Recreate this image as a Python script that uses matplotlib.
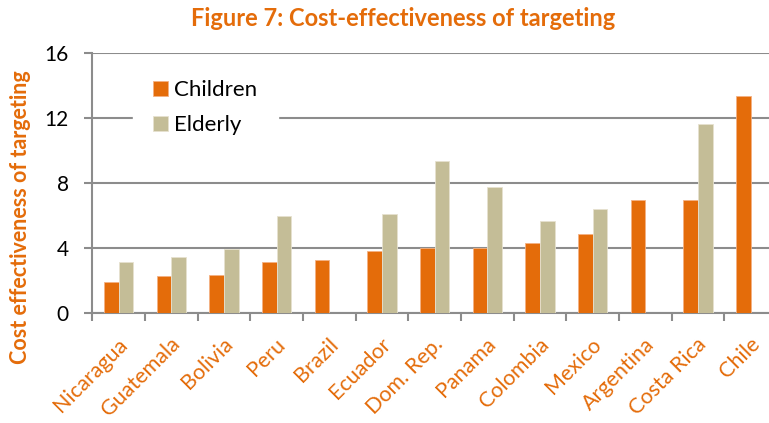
import numpy as np
import matplotlib
matplotlib.use("Agg")
import matplotlib.pyplot as plt
from matplotlib.transforms import ScaledTranslation

# Data
landen = ["Nicaragua", "Guatemala", "Bolivia", "Peru", "Brazil", "Ecuador",
          "Dom. Rep.", "Panama", "Colombia", "Mexico", "Argentina",
          "Costa Rica", "Chile"]
barn = [1.92, 2.31, 2.33, 3.13, 3.25, 3.80, 4.03, 4.03, 4.33, 4.87, 6.93, 6.95, 13.35]
eldre = [3.15, 3.45, 3.97, 5.97, np.nan, 6.12, 9.33, 7.75, 5.64, 6.40, np.nan, 11.60, np.nan]
yticks = [0, 4, 8, 12, 16]

oransje = "#E46C0A"
beige = "#C4BD97"
graa = "#8C8C8C"

plt.rcParams["font.family"] = ["Lato", "DejaVu Sans"]

fig = plt.figure(figsize=(7.69, 4.23), dpi=100)
ax = fig.add_axes([0.12, 0.2593, 0.8904, 0.6161])

x = np.arange(len(landen))
w = 0.28
ax.bar(x - w / 2, barn, w, color=oransje, edgecolor="#F4B183", linewidth=0.6,
       label="Children", zorder=3)
ax.bar(x + w / 2, eldre, w, color=beige, edgecolor="#E6E1CF", linewidth=0.6,
       label="Elderly", zorder=3)

ax.set_xlim(-0.5, len(landen) - 0.5)
ax.set_ylim(0, 16)
ax.set_yticks(yticks)
ax.tick_params(axis="y", labelsize=15, length=6, width=1.5, color=graa, pad=11)

# tick marks between the categories, labels at the centres
ax.set_xticks(x)
ax.set_xticklabels(landen, rotation=45, ha="right", va="top",
                   rotation_mode="anchor", fontsize=15.5, color=oransje)
ax.tick_params(axis="x", which="major", length=0, pad=15)
ax.set_xticks(np.arange(len(landen) + 1) - 0.5, minor=True)
ax.tick_params(axis="x", which="minor", length=6, width=1.5, color=graa)
for lbl in ax.get_xticklabels():
    lbl.set_transform(lbl.get_transform() + ScaledTranslation(-1 / 72, 0, fig.dpi_scale_trans))

ax.grid(axis="y", color=graa, linewidth=1.5, zorder=0)
for s in ["top", "right"]:
    ax.spines[s].set_visible(False)
for s in ["left", "bottom"]:
    ax.spines[s].set_color(graa)
    ax.spines[s].set_linewidth(1.5)

leg = ax.legend(loc="upper left", bbox_to_anchor=(0.059, 0.972), fontsize=16,
                frameon=True, facecolor="white", edgecolor="white", framealpha=1,
                handlelength=0.68, handleheight=0.68, handletextpad=0.3,
                labelspacing=0.68, borderpad=0.9, borderaxespad=0)
leg.set_zorder(5)

ax.set_ylabel("Cost effectiveness of targeting", fontsize=15.5, fontweight="bold",
              color=oransje)
ax.yaxis.set_label_coords(-0.09, 0.368)
fig.text(0.524, 0.957, "Figure 7: Cost-effectiveness of targeting", fontsize=17,
         fontweight="bold", color=oransje, ha="center", va="center")

fig.savefig("out.png", dpi=100)
